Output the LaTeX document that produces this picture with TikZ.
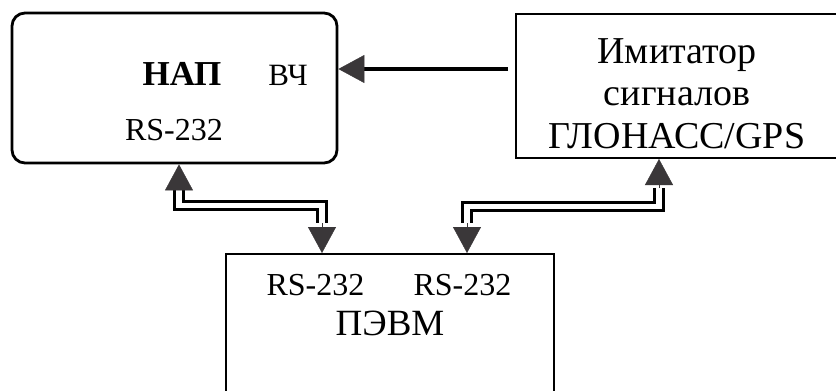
\documentclass[tikz,border=0pt]{standalone}
\usepackage{fontspec}
\setmainfont{Liberation Serif}
\usetikzlibrary{arrows.meta}
\definecolor{arrowc}{HTML}{3A3739}
\begin{document}
\begin{tikzpicture}[x=1pt,y=-1pt,
  box/.style={draw=black, line width=2pt, inner sep=0pt},
  cable/.style={draw=black, line width=3pt, double=white, double distance=5.5pt},
  head/.style={draw=arrowc, line width=0.4pt, -{Triangle[length=26pt,width=28pt,fill=arrowc,color=arrowc]}},
  lbl/.style={inner sep=0pt, anchor=base}
]
\clip (0,0) rectangle (836,391);
\fill[white] (0,0) rectangle (836,391);
% boxes
\node[box, rounded corners=13pt, line width=2.8pt, minimum width=325pt, minimum height=150pt] (nap) at (174.5,88) {};
\node[box, minimum width=354pt, minimum height=144pt] (imit) at (693,86) {};
\node[box, minimum width=328pt, minimum height=166pt] (pc) at (390,337) {};
% texts
\node[lbl, font=\fontsize{35}{42}\selectfont\bfseries] (naptxt) at (182,85) {НАП};
\node[lbl, font=\fontsize{31}{37}\selectfont] (hf) at (288,85) {ВЧ};
\node[lbl, font=\fontsize{32}{38}\selectfont] (naprs) at (174,140) {RS-232};
\node[lbl, font=\fontsize{38}{42.5}\selectfont, align=center] (imittxt) at (677,148) {Имитатор\\сигналов\\ГЛОНАСС/GPS};
\node[lbl, font=\fontsize{32}{38}\selectfont] (pcrs1) at (315.5,295) {RS-232};
\node[lbl, font=\fontsize{32}{38}\selectfont] (pcrs2) at (462.5,295) {RS-232};
\node[lbl, font=\fontsize{37}{44}\selectfont] (pctxt) at (390,335) {ПЭВМ};
% HF arrow from simulator to receiver
\coordinate (src) at (508,69);
\coordinate (hb) at (363,69);
\draw[line width=4pt] (src) -- (hb);
\draw[head] (hb) -- (nap.east |- hb);
% cable receiver <-> PC
\coordinate (l1) at (179,188);
\coordinate (l2) at (322,223);
\draw[cable] (l1) -- (179,205.5) -- (322,205.5) -- (l2);
\draw[head] (l1) -- (l1 |- nap.south);
\draw[head] (l2) -- (l2 |- pc.north);
% cable simulator <-> PC
\coordinate (r1) at (659,188);
\coordinate (r2) at (467,223);
\draw[cable] (r1) -- (659,206.5) -- (467,206.5) -- (r2);
\draw[head] (r1) -- (r1 |- imit.south);
\draw[head] (r2) -- (r2 |- pc.north);
\end{tikzpicture}
\end{document}
